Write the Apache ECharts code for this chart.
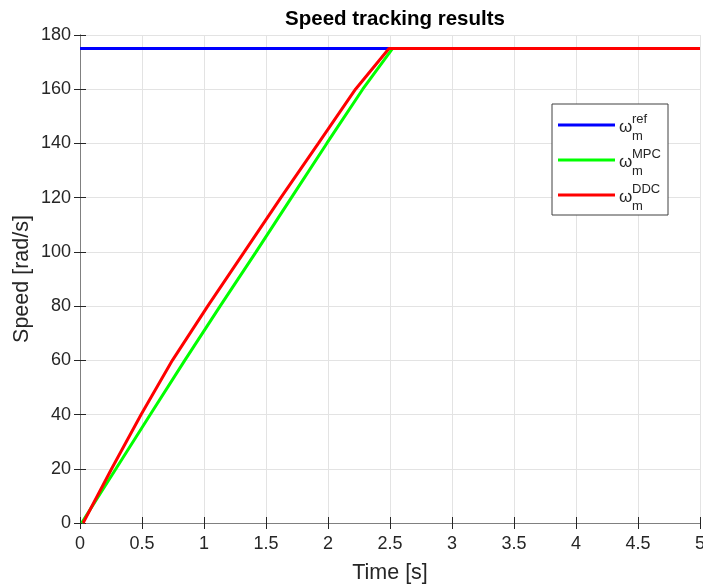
<!DOCTYPE html>
<html>
<head>
<meta charset="utf-8">
<script src="https://cdn.jsdelivr.net/npm/echarts@6/dist/echarts.min.js"></script>
<style>html,body{margin:0;padding:0;background:#fff}#c{width:703px;height:585px}</style>
</head>
<body>
<div id="c"></div>
<script>
// ---- data ----
const refTime  = [0, 5];
const refSpeed = [175, 175];
const mpcTime  = [0.013, 0.29, 0.567, 0.845, 1.13, 1.42, 1.705, 1.99, 2.28, 2.52, 5];
const mpcSpeed = [0, 20, 40, 60, 80, 100, 120, 140, 160, 175, 175];
const ddcTime  = [0.025, 0.255, 0.493, 0.745, 1.03, 1.325, 1.62, 1.922, 2.222, 2.492, 5];
const ddcSpeed = [0, 20, 40, 60, 80, 100, 120, 140, 160, 175, 175];
const xTicks = [0, 0.5, 1, 1.5, 2, 2.5, 3, 3.5, 4, 4.5, 5];
const yTicks = [0, 20, 40, 60, 80, 100, 120, 140, 160, 180];
const legendSup = ['ref', 'MPC', 'DDC'];
const seriesColors = ['#0000ff', '#00ff00', '#ff0000'];

const zip = (a, b) => a.map((v, i) => [v, b[i]]);
const FONT = '"Liberation Sans", Arial, Helvetica, sans-serif';
const TXT = '#262626';

const chart = echarts.init(document.getElementById('c'), null, {renderer: 'canvas'});

const baseAxis = {
  axisLine: {show: true, lineStyle: {color: '#808080', width: 1}},
  axisTick: {show: true, inside: true, length: 6, lineStyle: {color: TXT, width: 1}},
  splitLine: {show: false},
  axisLabel: {show: false}
};

// legend via graphic
const legendGraphics = [];
const lx = 552, ly = 104, lw = 116, lh = 111;
legendGraphics.push({type: 'rect', shape: {x: lx, y: ly, width: lw, height: lh},
  style: {fill: '#fff', stroke: '#404040', lineWidth: 1}, z: 100});
const rowY = [125, 160, 195];
legendSup.forEach((s, i) => {
  const y = rowY[i];
  legendGraphics.push({type: 'line', shape: {x1: 558, y1: y, x2: 615, y2: y},
    style: {stroke: seriesColors[i], lineWidth: 3}, z: 101});
  legendGraphics.push({type: 'text', x: 619, y: y + 2, z: 101,
    style: {text: 'ω', font: '17px ' + FONT, fill: TXT, verticalAlign: 'middle', align: 'left'}});
  legendGraphics.push({type: 'text', x: 632, y: y - 6, z: 101,
    style: {text: s, font: '13px ' + FONT, fill: TXT, verticalAlign: 'middle', align: 'left'}});
  legendGraphics.push({type: 'text', x: 632, y: y + 11, z: 101,
    style: {text: 'm', font: '13px ' + FONT, fill: TXT, verticalAlign: 'middle', align: 'left'}});
});

const option = {
  animation: false,
  backgroundColor: '#fff',
  title: {
    text: 'Speed tracking results',
    left: 390, top: 4, textAlign: 'center',
    textStyle: {fontFamily: FONT, fontWeight: 'bold', fontSize: 20.5, color: '#000'}
  },
  grid: {left: 80, right: 3, top: 35, bottom: 62, containLabel: false, outerBoundsMode: 'none'},
  xAxis: [
    Object.assign({}, baseAxis, {
      type: 'value', min: 0, max: 5, interval: 0.5, position: 'bottom',
      name: 'Time [s]', nameLocation: 'middle', nameGap: 39, nameMoveOverlap: false,
      nameTextStyle: {fontFamily: FONT, fontSize: 21.5, color: TXT},
      axisLabel: {show: true, fontFamily: FONT, fontSize: 18, color: TXT, margin: 12,
        formatter: v => String(v)},
      splitLine: {show: true, lineStyle: {color: '#e3e3e3', width: 1}}
    }),
    Object.assign({}, baseAxis, {
      type: 'value', min: 0, max: 5, interval: 0.5, position: 'top'
    })
  ],
  yAxis: [
    Object.assign({}, baseAxis, {
      type: 'value', min: 0, max: 180, interval: 20, position: 'left',
      name: 'Speed [rad/s]', nameLocation: 'middle', nameGap: 47, nameRotate: 90,
      nameMoveOverlap: false,
      nameTextStyle: {fontFamily: FONT, fontSize: 21.5, color: TXT},
      axisLabel: {show: true, fontFamily: FONT, fontSize: 18, color: TXT, margin: 9},
      splitLine: {show: true, lineStyle: {color: '#e3e3e3', width: 1}}
    }),
    Object.assign({}, baseAxis, {
      type: 'value', min: 0, max: 180, interval: 20, position: 'right'
    })
  ],
  series: [
    {type: 'line', name: 'ref', data: zip(refTime, refSpeed), showSymbol: false,
      lineStyle: {color: seriesColors[0], width: 3}, itemStyle: {color: seriesColors[0]}, z: 2},
    {type: 'line', name: 'MPC', data: zip(mpcTime, mpcSpeed), showSymbol: false,
      lineStyle: {color: seriesColors[1], width: 3}, itemStyle: {color: seriesColors[1]}, z: 3},
    {type: 'line', name: 'DDC', data: zip(ddcTime, ddcSpeed), showSymbol: false,
      lineStyle: {color: seriesColors[2], width: 3}, itemStyle: {color: seriesColors[2]}, z: 4}
  ],
  graphic: legendGraphics
};
chart.setOption(option);
</script>
</body>
</html>
